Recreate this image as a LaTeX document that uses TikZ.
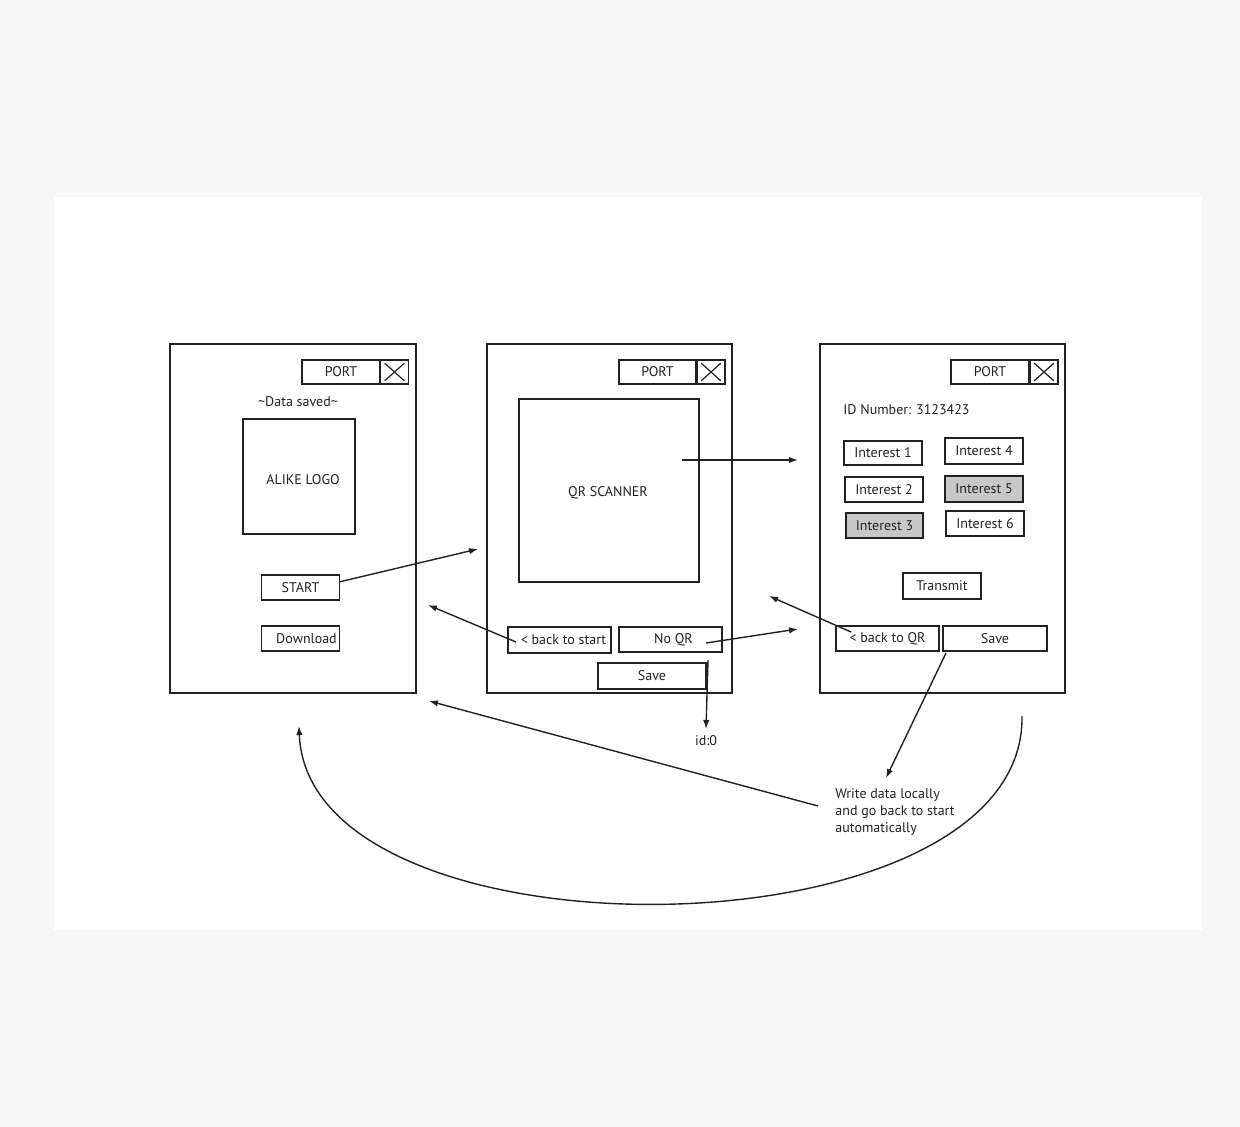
\documentclass[tikz,border=0pt]{standalone}
\usepackage{fontspec}
\setmainfont{PT Sans}
\usetikzlibrary{arrows.meta}
\definecolor{pagebg}{HTML}{F6F6F6}
\definecolor{selgray}{HTML}{C8C8C8}
\definecolor{ink}{HTML}{222222}
\begin{document}
\begin{tikzpicture}[x=0.5pt,y=-0.5pt,
  every node/.style={font=\fontsize{7}{8.5}\selectfont, text=ink},
  frame/.style={draw=ink, line width=0.8pt, inner sep=0pt},
  btn/.style={draw=ink, line width=0.85pt, inner sep=0pt, minimum width=39pt, minimum height=12.5pt},
  xbtn/.style={draw=ink, line width=0.85pt, inner sep=0pt, minimum width=14pt, minimum height=12pt},
  sel/.style={fill=selgray},
  lbl/.style={inner sep=0pt},
  conn/.style={draw=ink, line width=0.7pt, -{Latex[length=4.5pt,width=3.2pt]}}
]
\fill[pagebg] (0,0) rectangle (1240,1127);
\fill[white] (54,197) rectangle (1202,930);
\useasboundingbox (0,0) rectangle (1240,1127);

% ---------- Screen 1 ----------
\node[frame, minimum width=123pt, minimum height=174.5pt] (s1) at (293,518.5) {};
\node[btn, minimum width=39pt, minimum height=12pt] (port1) at (341,372) {PORT};
\node[xbtn] (x1) at (394.5,372) {};
\draw[ink, line width=0.6pt] ([shift={(2.5pt,-2pt)}]x1.north west) -- ([shift={(-2.5pt,2pt)}]x1.south east)
  ([shift={(2.5pt,2pt)}]x1.south west) -- ([shift={(-2.5pt,-2pt)}]x1.north east);
\node[lbl] (saved) at (298,402) {\textasciitilde Data saved\textasciitilde};
\node[frame, minimum width=56pt, minimum height=57.5pt] (logo) at (299,476.5) {};
\node[lbl] (logotxt) at (303,480) {ALIKE LOGO};
\node[btn] (start) at (300.5,587.5) {START};
\node[btn] (download) at (300.5,638.5) {\hspace{6pt}Download};

% ---------- Screen 2 ----------
\node[frame, minimum width=122.5pt, minimum height=174.5pt] (s2) at (609.5,518.5) {};
\node[btn, minimum width=38.5pt, minimum height=12pt] (port2) at (657.5,372) {PORT};
\node[xbtn] (x2) at (711,372) {};
\draw[ink, line width=0.6pt] ([shift={(2.5pt,-2pt)}]x2.north west) -- ([shift={(-2.5pt,2pt)}]x2.south east)
  ([shift={(2.5pt,2pt)}]x2.south west) -- ([shift={(-2.5pt,-2pt)}]x2.north east);
\node[frame, minimum width=90pt, minimum height=91.5pt] (qr) at (609,490.5) {};
\node[lbl] (qrtxt) at (608,493) {QR SCANNER};
\node[btn, minimum width=51.5pt, minimum height=13pt] (backstart) at (559.5,640) {\hspace{4pt}< back to start};
\node[btn, minimum width=51.5pt] (noqr) at (670.5,639.5) {\hspace{3pt}No QR};
\node[btn, minimum width=54pt, minimum height=13pt] (save2) at (652,676) {Save};
\node[lbl] (id0) at (706,741) {id:0};

% ---------- Screen 3 ----------
\node[frame, minimum width=122.5pt, minimum height=174.5pt] (s3) at (942.5,518.5) {};
\node[btn, minimum width=39pt, minimum height=12pt] (port3) at (990,372) {PORT};
\node[xbtn] (x3) at (1044,372) {};
\draw[ink, line width=0.6pt] ([shift={(2.5pt,-2pt)}]x3.north west) -- ([shift={(-2.5pt,2pt)}]x3.south east)
  ([shift={(2.5pt,2pt)}]x3.south west) -- ([shift={(-2.5pt,-2pt)}]x3.north east);
\node[lbl, anchor=west] (idnum) at (843,410) {ID Number: 3123423};
\node[btn, minimum height=12pt] (int1) at (883,453) {Interest 1};
\node[btn, minimum height=13pt] (int4) at (984,451) {Interest 4};
\node[btn] (int2) at (884,489.5) {Interest 2};
\node[btn, sel, minimum height=13pt] (int5) at (984,489) {Interest 5};
\node[btn, sel, minimum width=38.5pt] (int3) at (884.5,525.5) {Interest 3};
\node[btn] (int6) at (985,523.5) {Interest 6};
\node[btn, minimum height=13pt] (transmit) at (942,586) {Transmit};
\node[btn, minimum width=51.5pt] (backqr) at (887.5,638.5) {< back to QR};
\node[btn, minimum width=52pt] (save3) at (995,638.5) {Save};
\node[lbl, anchor=north west, align=left] (note) at (835,788) {Write data locally\\and go back to start\\automatically};

% ---------- Connectors ----------
\coordinate (startout) at (339,582);
\coordinate (s2in) at (478,549);
\coordinate (bsout) at (516,642);
\coordinate (s1in) at (428,605);
\coordinate (qrout) at (682,460);
\coordinate (s3in) at (798,460);
\coordinate (noqrout) at (706,643);
\coordinate (s3in2) at (798,629);
\coordinate (bqrout) at (851,632);
\coordinate (s2in2) at (769,596);
\coordinate (save2out) at (708,660);
\coordinate (id0in) at (706,729);
\coordinate (save3out) at (946,653);
\coordinate (notein) at (886,778);
\coordinate (noteout) at (818,806);
\coordinate (s1in2) at (429,701);
\coordinate (loopout) at (1022,716);
\coordinate (s1in3) at (299,726);

\draw[conn] (startout) -- (s2in);
\draw[conn] (bsout) -- (s1in);
\draw[conn] (qrout) -- (s3in);
\draw[conn] (noqrout) -- (s3in2);
\draw[conn] (bqrout) -- (s2in2);
\draw[conn] (save2out) -- (id0in);
\draw[conn] (save3out) -- (notein);
\draw[conn] (noteout) -- (s1in2);
\draw[conn] (loopout) .. controls (1026,960) and (308,968) .. (s1in3);
\end{tikzpicture}
\end{document}
